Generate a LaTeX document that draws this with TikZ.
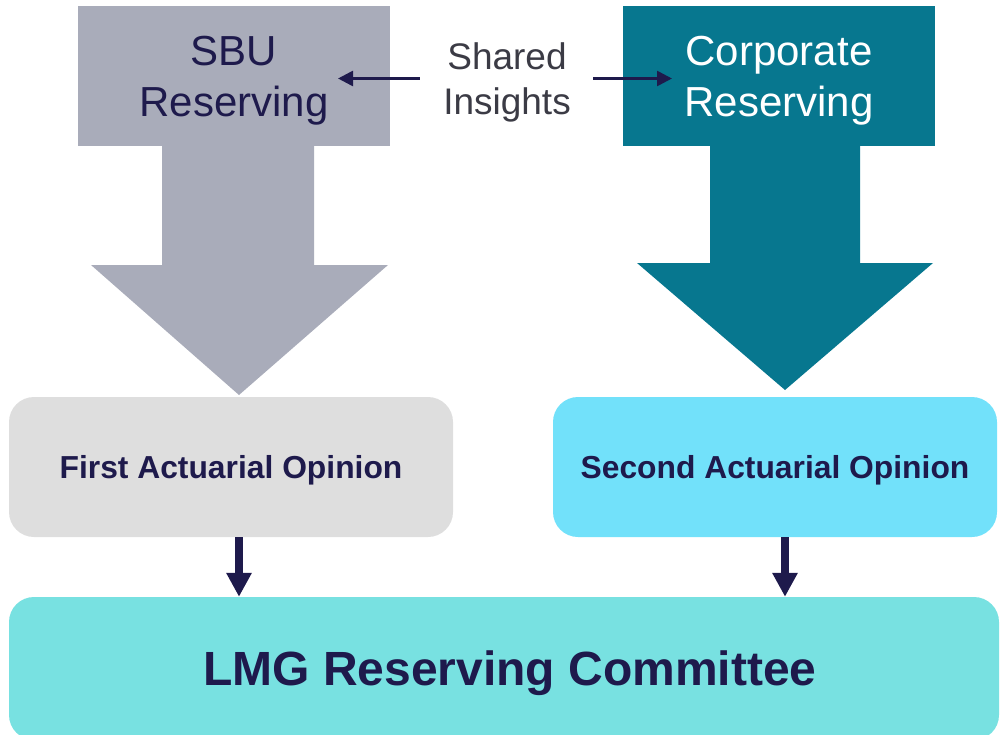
\documentclass[tikz,border=0pt]{standalone}
\usepackage{fontspec}
\setmainfont{Liberation Sans}
\usetikzlibrary{arrows.meta}

\definecolor{sbugray}{HTML}{A9ACBA}
\definecolor{corpteal}{HTML}{07778F}
\definecolor{navy}{HTML}{1E1A4C}
\definecolor{insightgray}{HTML}{3B3B45}
\definecolor{firstgray}{HTML}{DEDEDE}
\definecolor{secondcyan}{HTML}{72E1FA}
\definecolor{committeeteal}{HTML}{78E1E1}

\begin{document}
\begin{tikzpicture}[x=1pt,y=-1pt,
  headbox/.style={minimum width=312pt,minimum height=140pt,inner sep=0pt,
    align=center,text height=81pt,text depth=0pt,
    font=\fontsize{42}{51}\selectfont},
  opinion/.style={rounded corners=25pt,minimum width=444pt,minimum height=140pt,
    inner sep=0pt,text=navy,text height=22.8pt,text depth=0pt,
    font=\bfseries\fontsize{31.8}{38}\selectfont},
  feed/.style={draw=navy,line width=8pt,-{Triangle[length=24pt,width=24pt]}},
  insight/.style={draw=navy,line width=2.6pt,-{Triangle[length=15pt,width=15pt]}}]

\useasboundingbox (0,0) rectangle (1000,735);

% top boxes
\node[headbox,fill=sbugray,text=navy] (sbu) at (234,76.5) {SBU\\Reserving};
\node[headbox,fill=corpteal,text=white] (corp) at (779,76.5) {Corporate\\Reserving};

% wide block arrows under the top boxes
\fill[sbugray] (162,140) -- (314,140) -- (314,265) -- (388,265) -- (239,395)
  -- (91,265) -- (162,265) -- cycle;
\fill[corpteal] (710,140) -- (860,140) -- (860,263) -- (933,263) -- (785,390)
  -- (637,263) -- (710,263) -- cycle;

% shared insights between the two reserving teams
\node[inner sep=0pt,align=center,text=insightgray,text height=71.5pt,text depth=0pt,
  font=\fontsize{37}{45}\selectfont] (shared) at (507,78.5) {Shared\\Insights};
\coordinate (sbuin) at (338,0);
\coordinate (corpin) at (672,0);
\draw[insight] ([xshift=-23.5pt]shared.west) -- (shared.west -| sbuin);
\draw[insight] ([xshift=22.5pt]shared.east) -- (shared.east -| corpin);

% opinions
\node[opinion,fill=firstgray] (first) at (231,467) {First Actuarial Opinion};
\node[opinion,fill=secondcyan] (second) at (775,467) {Second Actuarial Opinion};

% committee
\node[rounded corners=25pt,fill=committeeteal,minimum width=990pt,minimum height=143pt,
  inner sep=0pt,text=navy,text height=34.4pt,text depth=0pt,
  font=\bfseries\fontsize{48}{56}\selectfont] (committee) at (504,668.5)
  {\hspace*{12pt}LMG Reserving Committee};

\coordinate (firstfoot) at (239,0);
\coordinate (secondfoot) at (785,0);
\draw[feed] (first.south -| firstfoot) -- (committee.north -| firstfoot);
\draw[feed] (second.south -| secondfoot) -- (committee.north -| secondfoot);
\end{tikzpicture}
\end{document}
